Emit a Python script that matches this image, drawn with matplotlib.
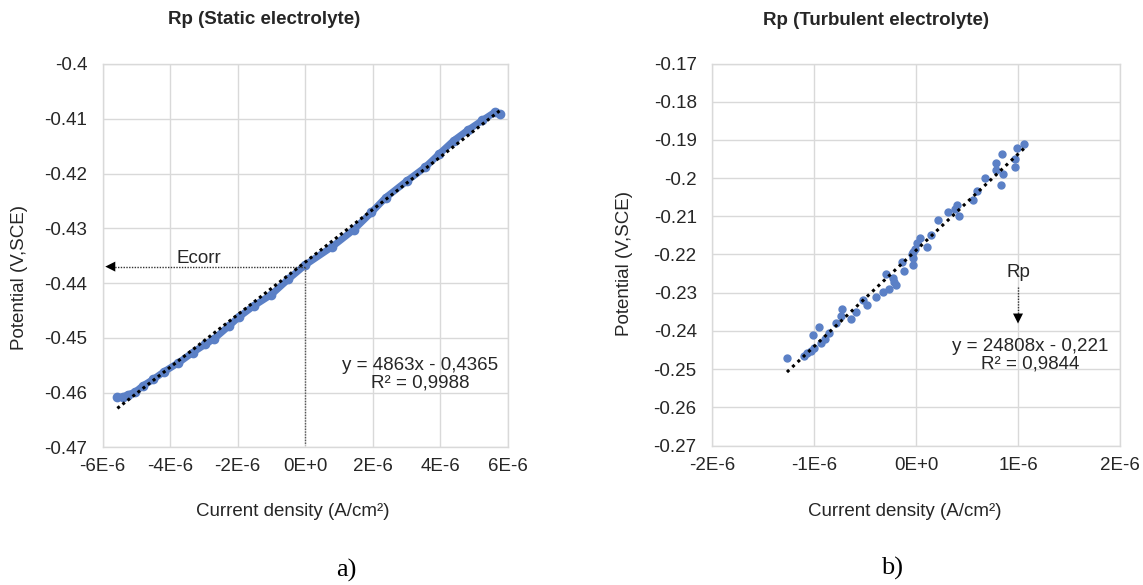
import numpy as np
import matplotlib
matplotlib.use("Agg")
import matplotlib.pyplot as plt

plt.rcParams['font.family'] = ['Liberation Sans', 'DejaVu Sans']
plt.rcParams['font.size'] = 13.5

# static electrolyte (x in A/cm2 * 1e6, y in V)
static_x = [-5.56, -5.40, -5.24, -5.03, -4.81, -4.50, -4.18, -3.76, -3.33, -2.96,
            -2.70, -2.27, -1.96, -1.53, -1.00, -0.50, 0.00, 0.79, 1.43, 1.96,
            2.38, 3.02, 3.54, 3.97, 4.39, 4.81, 5.24, 5.61, 5.77]
static_y = [-0.4609, -0.4608, -0.4604, -0.4599, -0.4588, -0.4576, -0.4562, -0.4546, -0.4527, -0.4512,
            -0.4502, -0.4479, -0.4462, -0.4442, -0.4421, -0.4393, -0.4367, -0.4334, -0.4303, -0.4271,
            -0.4244, -0.4213, -0.4189, -0.4164, -0.4140, -0.4121, -0.4103, -0.4088, -0.4091]

# turbulent electrolyte
turb_x = [-1.265, -1.097, -1.065, -1.032, -1.00, -1.01, -0.95, -0.93, -0.89, -0.855,
          -0.78, -0.74, -0.73, -0.635, -0.59, -0.52, -0.48, -0.39, -0.32, -0.26,
          -0.20, -0.29, -0.23, -0.22, -0.12, -0.135, -0.03, -0.03, -0.03,
          -0.04, -0.01, 0.01, 0.04, 0.11, 0.15, 0.22, 0.31, 0.42, 0.38,
          0.40, 0.56, 0.60, 0.68, 0.83, 0.85, 0.78, 0.78, 0.84, 0.97,
          0.97, 0.99, 1.06]
turb_y = [-0.2472, -0.2465, -0.2458, -0.2452, -0.2445, -0.2410, -0.2390, -0.2432, -0.2421, -0.2405,
          -0.2380, -0.2361, -0.2342, -0.2370, -0.2350, -0.2319, -0.2332, -0.2310, -0.2299, -0.2290,
          -0.2280, -0.2250, -0.2262, -0.2273, -0.2242, -0.2220, -0.2228, -0.2209, -0.2193,
          -0.2200, -0.2185, -0.2170, -0.2157, -0.2180, -0.2150, -0.2109, -0.2090, -0.2098, -0.2080,
          -0.2070, -0.2058, -0.2033, -0.2000, -0.2018, -0.1990, -0.1980, -0.1960, -0.1938, -0.1970,
          -0.1949, -0.1920, -0.1910]

static_eq = "y = 4863x - 0,4365\nR² = 0,9988"
turb_eq = "y = 24808x - 0,221\nR² = 0,9844"

static_xticks = [-6, -4, -2, 0, 2, 4, 6]
static_xlabels = ['-6E-6', '-4E-6', '-2E-6', '0E+0', '2E-6', '4E-6', '6E-6']
static_yticks = [-0.47, -0.46, -0.45, -0.44, -0.43, -0.42, -0.41, -0.40]
static_ylabels = ['-0.47', '-0.46', '-0.45', '-0.44', '-0.43', '-0.42', '-0.41', '-0.4']

turb_xticks = [-2, -1, 0, 1, 2]
turb_xlabels = ['-2E-6', '-1E-6', '0E+0', '1E-6', '2E-6']
turb_yticks = [-0.27, -0.26, -0.25, -0.24, -0.23, -0.22, -0.21, -0.20, -0.19, -0.18, -0.17]
turb_ylabels = ['-0.27', '-0.26', '-0.25', '-0.24', '-0.23', '-0.22', '-0.21', '-0.2', '-0.19', '-0.18', '-0.17']

ecorr = -0.437

W, H = 1143, 585
blue = '#5b80c6'
grid = '#d9d9d9'
txt = '#262626'

fig = plt.figure(figsize=(W / 100, H / 100), dpi=100)
ax1 = fig.add_axes([102.5 / W, 1 - 447.3 / H, 405.5 / W, 383.3 / H])
ax2 = fig.add_axes([712 / W, 1 - 445.5 / H, 408 / W, 382 / H])


def style(ax, xt, xl, yt, yl):
    ax.set_xticks(xt)
    ax.set_xticklabels(xl)
    ax.set_yticks(yt)
    ax.set_yticklabels(yl)
    ax.set_xlim(xt[0], xt[-1])
    ax.set_ylim(yt[0], yt[-1])
    ax.grid(True, color=grid, lw=1)
    ax.set_axisbelow(True)
    for s in ax.spines.values():
        s.set_color(grid)
        s.set_linewidth(1)
    ax.tick_params(length=0, colors=txt, labelsize=13.5)
    ax.tick_params(axis='y', pad=11)
    ax.tick_params(axis='x', pad=8)


style(ax1, static_xticks, static_xlabels, static_yticks, static_ylabels)
style(ax2, turb_xticks, turb_xlabels, turb_yticks, turb_ylabels)

# static: dense band of points + trend line
ax1.plot(static_x, static_y, '-o', color=blue, lw=5, ms=6, solid_capstyle='round', zorder=2)
k1, b1 = np.polyfit(static_x, static_y, 1)
tx1 = np.array([min(static_x), max(static_x)])
ax1.plot(tx1, k1 * tx1 + b1, color='black', lw=2.2, linestyle=(0, (1, 1.1)), zorder=3)

# Ecorr guides
ax1.plot([0, -5.7], [ecorr, ecorr], color='#333333', lw=1, linestyle=(0, (1, 1)), zorder=3)
ax1.plot([0, 0], [ecorr, -0.4695], color='#555555', lw=1, linestyle=(0, (1, 1)), zorder=3)
ax1.annotate('', xy=(-6.0, ecorr), xytext=(-5.55, ecorr),
             arrowprops=dict(arrowstyle='-|>', color='black', lw=0, mutation_scale=18))
ax1.text(-3.15, -0.4356, 'Ecorr', ha='center', va='center', fontsize=13.5, color=txt)
ax1.text(3.41, -0.4566, static_eq, ha='center', va='center', fontsize=13.5, color=txt,
         linespacing=1.05)

# turbulent
ax2.plot(turb_x, turb_y, 'o', color=blue, ms=5, zorder=2)
k2, b2 = np.polyfit(turb_x, turb_y, 1)
tx2 = np.array([min(turb_x), max(turb_x)])
ax2.plot(tx2, k2 * tx2 + b2, color='black', lw=2.2, linestyle=(0, (1, 1.4)), zorder=3)

ax2.plot([1, 1], [-0.2285, -0.2372], color='#333333', lw=1, linestyle=(0, (1, 1)), zorder=3)
ax2.annotate('', xy=(1, -0.2388), xytext=(1, -0.2360),
             arrowprops=dict(arrowstyle='-|>', color='black', lw=0, mutation_scale=18))
ax2.text(1.0, -0.2246, 'Rp', ha='center', va='center', fontsize=13.5, color=txt)
ax2.text(1.12, -0.2464, turb_eq, ha='center', va='center', fontsize=13.5, color=txt,
         linespacing=1.05)


def ftext(x, y, s, **kw):
    fig.text(x / W, 1 - y / H, s, ha='center', va='center', color=txt, **kw)


ftext(264, 20, 'Rp (Static electrolyte)', fontsize=13.5, fontweight='bold')
ftext(876, 20.5, 'Rp (Turbulent electrolyte)', fontsize=13.5, fontweight='bold')
ftext(293, 511.7, 'Current density (A/cm²)', fontsize=13.5)
ftext(905, 511.7, 'Current density (A/cm²)', fontsize=13.5)
ftext(19.6, 277, 'Potential (V,SCE)', fontsize=13.5, rotation=90)
ftext(624.7, 263.5, 'Potential (V,SCE)', fontsize=13.5, rotation=90)
fig.text(346 / W, 1 - 570 / H, 'a)', ha='center', va='center', fontsize=19,
         family=['Liberation Serif', 'DejaVu Serif'], color='black')
fig.text(892 / W, 1 - 568 / H, 'b)', ha='center', va='center', fontsize=19,
         family=['Liberation Serif', 'DejaVu Serif'], color='black')

fig.savefig('out.png', dpi=100)
